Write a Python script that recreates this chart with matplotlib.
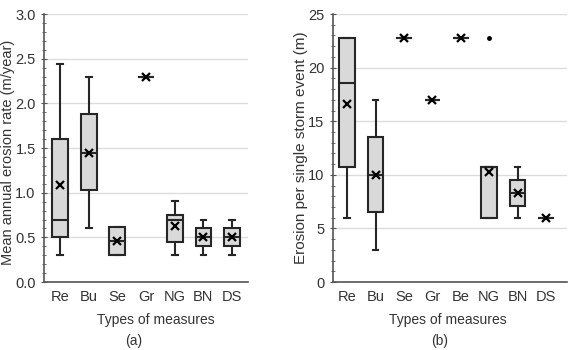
import matplotlib
matplotlib.use("Agg")
import matplotlib.pyplot as plt
from matplotlib.ticker import MultipleLocator, FormatStrFormatter

plt.rcParams['font.family'] = ['Liberation Sans', 'DejaVu Sans']

# Panel (a): mean annual erosion rate (m/year)
cats_a = ["Re", "Bu", "Se", "Gr", "NG", "BN", "DS"]
a_whislo = [0.30, 0.61, 0.30, 2.30, 0.30, 0.30, 0.30]
a_q1     = [0.50, 1.03, 0.30, 2.30, 0.45, 0.40, 0.40]
a_med    = [0.70, 1.45, 0.46, 2.30, 0.70, 0.50, 0.50]
a_q3     = [1.60, 1.88, 0.62, 2.30, 0.75, 0.61, 0.60]
a_whishi = [2.44, 2.30, 0.62, 2.30, 0.91, 0.70, 0.70]
a_mean   = [1.09, 1.45, 0.46, 2.30, 0.63, 0.50, 0.50]
a_fliers = [[], [], [], [], [], [], []]

# Panel (b): erosion per single storm event (m)
cats_b = ["Re", "Bu", "Se", "Gr", "Be", "NG", "BN", "DS"]
b_whislo = [6.0, 3.0, 22.8, 17.0, 22.8, 6.0, 6.0, 6.0]
b_q1     = [10.7, 6.5, 22.8, 17.0, 22.8, 6.0, 7.1, 6.0]
b_med    = [18.6, 10.0, 22.8, 17.0, 22.8, 10.7, 8.3, 6.0]
b_q3     = [22.8, 13.5, 22.8, 17.0, 22.8, 10.7, 9.5, 6.0]
b_whishi = [22.8, 17.0, 22.8, 17.0, 22.8, 10.7, 10.7, 6.0]
b_mean   = [16.6, 10.0, 22.8, 17.0, 22.8, 10.3, 8.3, 6.0]
b_fliers = [[], [], [], [], [], [22.8], [], []]

EDGE = "#262626"
TXT = "#333333"


def make_stats(cats, lo, q1, med, q3, hi, mean, fl):
    return [dict(label=c, whislo=a, q1=b, med=m, q3=d, whishi=e, mean=mn, fliers=f)
            for c, a, b, m, d, e, mn, f in zip(cats, lo, q1, med, q3, hi, mean, fl)]


def draw(ax, stats, ylim, major, minor, ylabel, ylab_size, ylab_x, ylab_y, xlim):
    ax.bxp(stats, showmeans=True, patch_artist=True, widths=0.55, capwidths=0.2,
           boxprops=dict(facecolor="#d9d9d9", edgecolor=EDGE, linewidth=1.5),
           medianprops=dict(color=EDGE, linewidth=1.5),
           whiskerprops=dict(color=EDGE, linewidth=1.5),
           capprops=dict(color=EDGE, linewidth=1.5),
           meanprops=dict(marker="x", markeredgecolor="black", markersize=6, markeredgewidth=1.6),
           flierprops=dict(marker="o", markerfacecolor="black", markeredgecolor="black", markersize=2.5))
    ax.set_ylim(*ylim)
    ax.set_xlim(*xlim)
    ax.yaxis.set_major_locator(MultipleLocator(major))
    ax.yaxis.set_minor_locator(MultipleLocator(minor))
    ax.grid(axis="y", which="major", color="#dcdcdc", linewidth=1.0)
    ax.set_axisbelow(True)
    for s in ("top", "right"):
        ax.spines[s].set_visible(False)
    for s in ("left", "bottom"):
        ax.spines[s].set_color("#555555")
        ax.spines[s].set_linewidth(1.2)
    ax.tick_params(axis="y", which="major", direction="inout", length=5, color="#555555", labelsize=10.5, labelcolor=TXT)
    ax.tick_params(axis="y", which="minor", direction="inout", length=3, color="#555555")
    ax.tick_params(axis="x", length=0, labelsize=10.5, labelcolor=TXT, pad=6)
    ax.set_ylabel(ylabel, fontsize=ylab_size, color=TXT)
    ax.yaxis.set_label_coords(ylab_x, ylab_y)


fig = plt.figure(figsize=(5.75, 3.5), dpi=100)
ax1 = fig.add_axes([0.0765, 0.194, 0.355, 0.766])
ax2 = fig.add_axes([0.579, 0.194, 0.407, 0.766])

draw(ax1, make_stats(cats_a, a_whislo, a_q1, a_med, a_q3, a_whishi, a_mean, a_fliers),
     (0, 3.0), 0.5, 0.1, "Mean annual erosion rate (m/year)", 10.5, -0.14, 0.485, (0.44, 7.56))
ax1.yaxis.set_major_formatter(FormatStrFormatter("%.1f"))
draw(ax2, make_stats(cats_b, b_whislo, b_q1, b_med, b_q3, b_whishi, b_mean, b_fliers),
     (0, 25), 5, 1, "Erosion per single storm event (m)", 11, -0.108, 0.5, (0.5, 8.74))

fig.text(155.5 / 575, 1 - 320 / 350, "Types of measures", ha="center", va="center", fontsize=10, color=TXT)
fig.text(134 / 575, 1 - 341 / 350, "(a)", ha="center", va="center", fontsize=10, color=TXT)
fig.text(448 / 575, 1 - 320 / 350, "Types of measures", ha="center", va="center", fontsize=10, color=TXT)
fig.text(440 / 575, 1 - 341 / 350, "(b)", ha="center", va="center", fontsize=10, color=TXT)

fig.savefig("out.png", dpi=100)
